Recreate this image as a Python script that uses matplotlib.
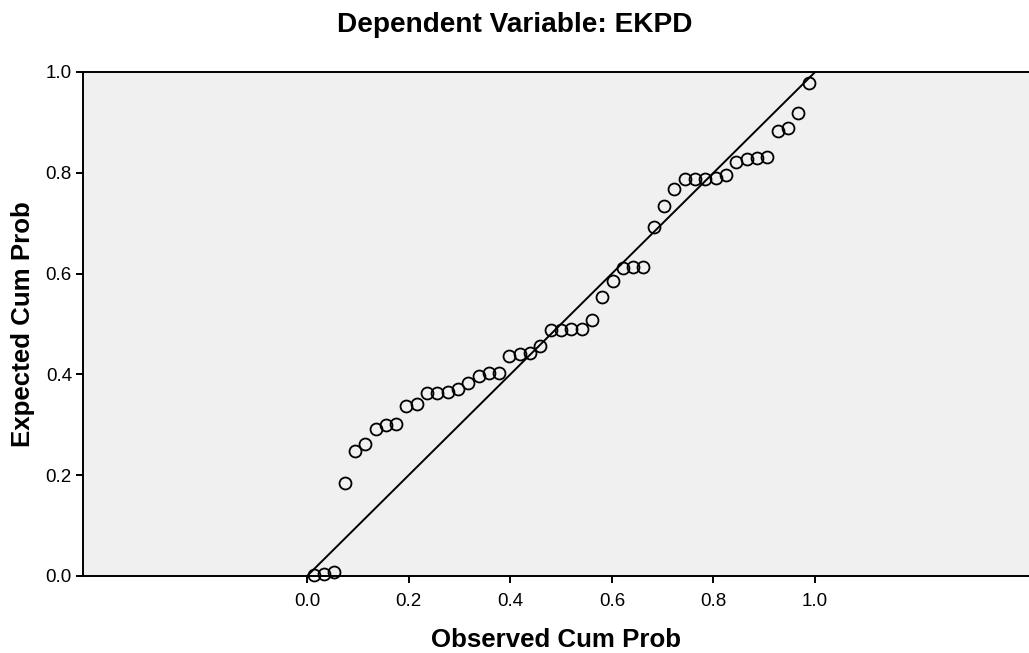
import matplotlib

matplotlib.use("Agg")
import matplotlib.pyplot as plt

# P-P plot of regression standardized residuals
observed = [
    0.013, 0.033, 0.053, 0.074, 0.094, 0.114, 0.135, 0.155, 0.175, 0.195,
    0.216, 0.236, 0.256, 0.277, 0.297, 0.317, 0.338, 0.358, 0.378, 0.398,
    0.419, 0.439, 0.459, 0.480, 0.500, 0.520, 0.541, 0.561, 0.581, 0.602,
    0.622, 0.642, 0.662, 0.683, 0.703, 0.723, 0.744, 0.764, 0.784, 0.805,
    0.825, 0.845, 0.865, 0.886, 0.906, 0.926, 0.947, 0.967, 0.987,
]
expected = [
    0.002, 0.003, 0.007, 0.185, 0.248, 0.262, 0.291, 0.299, 0.301, 0.337,
    0.341, 0.363, 0.363, 0.365, 0.371, 0.383, 0.397, 0.403, 0.403, 0.436,
    0.440, 0.443, 0.457, 0.488, 0.488, 0.490, 0.490, 0.508, 0.553, 0.585,
    0.611, 0.613, 0.613, 0.693, 0.734, 0.768, 0.788, 0.788, 0.788, 0.790,
    0.796, 0.821, 0.827, 0.829, 0.831, 0.883, 0.889, 0.919, 0.978,
]
ref_line = [0.0, 1.0]
ticks = [0.0, 0.2, 0.4, 0.6, 0.8, 1.0]

plt.rcParams["font.family"] = ["Liberation Sans", "DejaVu Sans"]

fig = plt.figure(figsize=(10.29, 6.53), dpi=100)
ax = fig.add_axes([83 / 1029, 77 / 653, 946 / 1029, 504 / 653])
ax.set_facecolor("#f0f0f0")

ax.plot(ref_line, ref_line, color="black", linewidth=1.4, zorder=2)
ax.plot(
    observed,
    expected,
    linestyle="none",
    marker="o",
    markersize=8.6,
    markerfacecolor="none",
    markeredgecolor="black",
    markeredgewidth=1.3,
    clip_on=False,
    zorder=3,
)

ax.set_xlim(-0.441, 1.421)
ax.set_ylim(0.0, 1.0)
ax.set_xticks(ticks)
ax.set_yticks(ticks)
ax.set_xticklabels([f"{t:.1f}" for t in ticks])
ax.set_yticklabels([f"{t:.1f}" for t in ticks])
ax.tick_params(direction="out", length=5, width=1.4, labelsize=13.5, pad=3)
ax.tick_params(axis="x", pad=7)

ax.spines["right"].set_visible(False)
for side in ("left", "top", "bottom"):
    ax.spines[side].set_linewidth(1.4)

ax.set_xlabel("Observed Cum Prob", fontsize=18.6, fontweight="bold", labelpad=13)
ax.set_ylabel("Expected Cum Prob", fontsize=18.6, fontweight="bold", labelpad=8)
fig.text(0.5, 1 - 25 / 653, "Dependent Variable: EKPD", ha="center",
         va="center", fontsize=20.2, fontweight="bold")

fig.savefig("out.png", dpi=100)
